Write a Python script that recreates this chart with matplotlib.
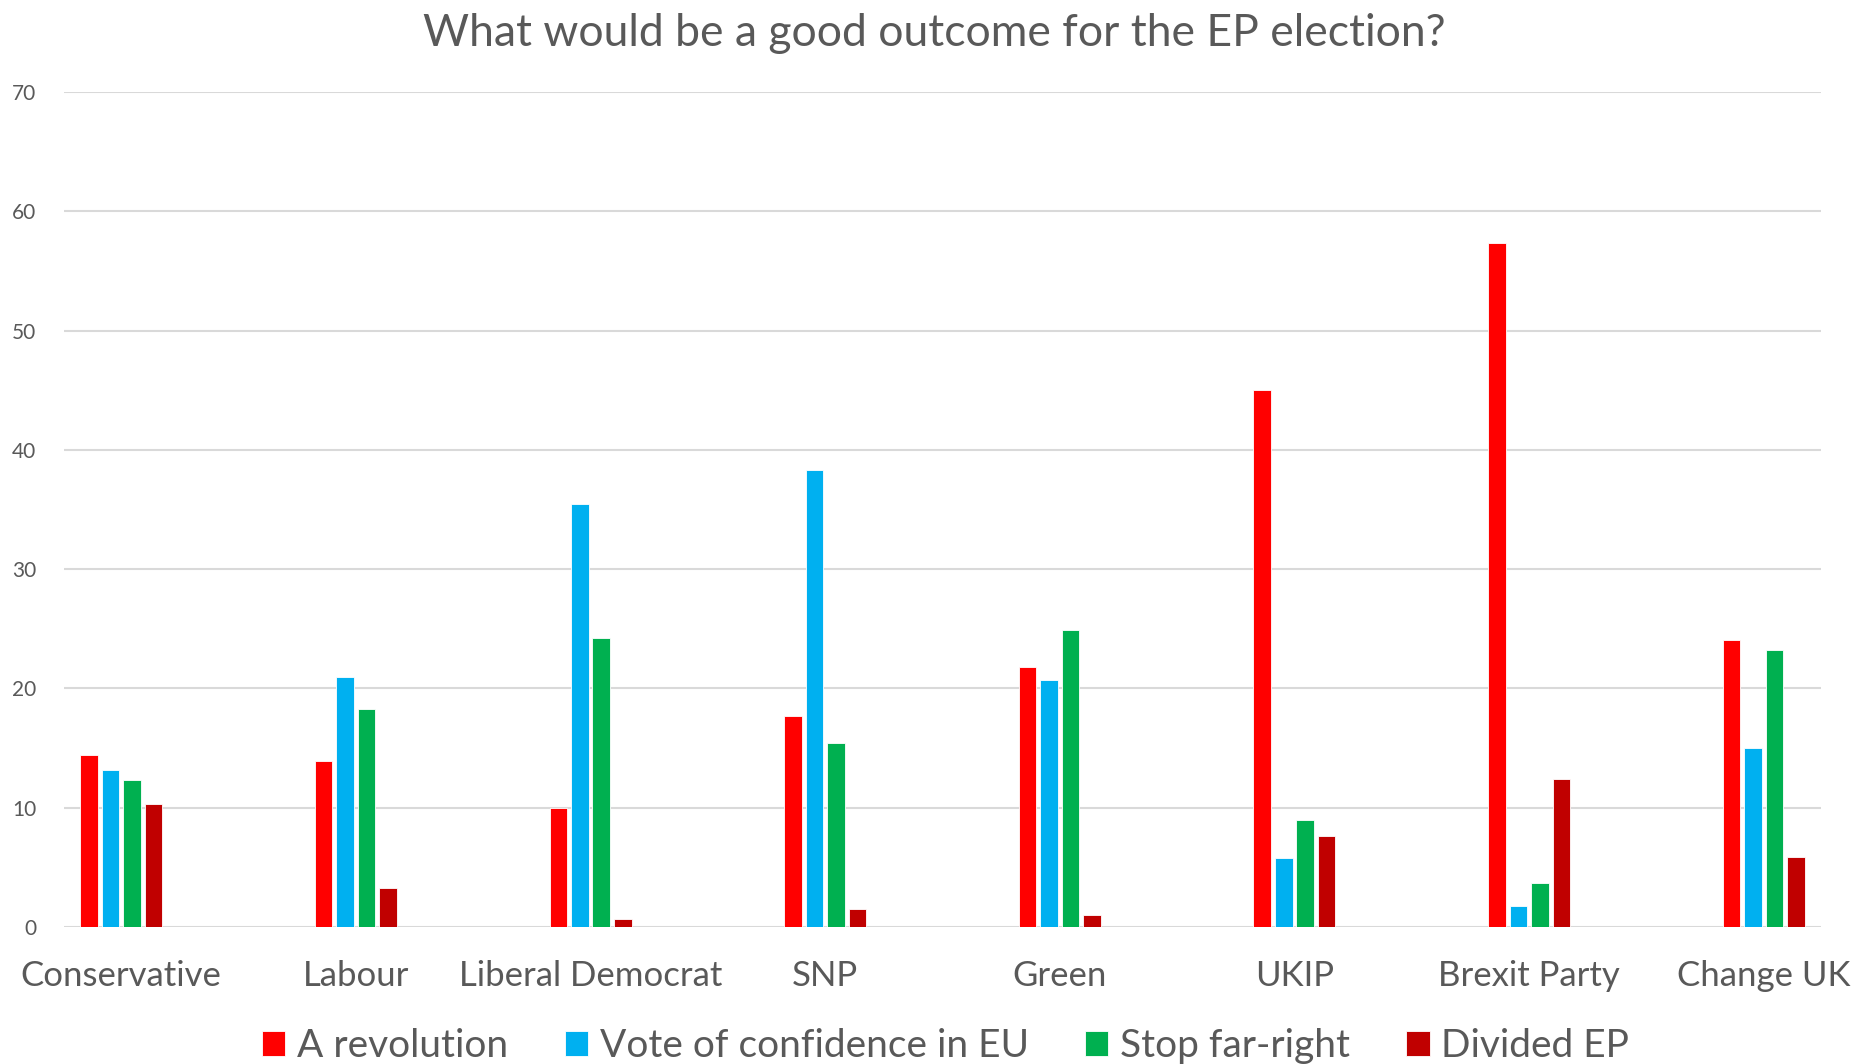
import matplotlib.pyplot as plt
import numpy as np

plt.rcParams['font.family'] = ['Lato', 'DejaVu Sans']

parties = ["Conservative", "Labour", "Liberal Democrat", "SNP", "Green",
           "UKIP", "Brexit Party", "Change UK"]
revolution = [14.4, 13.9, 10.0, 17.7, 21.8, 45.0, 57.3, 24.1]
confidence = [13.2, 21.0, 35.5, 38.3, 20.7, 5.8, 1.8, 15.0]
stop_far_right = [12.3, 18.3, 24.2, 15.4, 24.9, 9.0, 3.7, 23.2]
divided = [10.3, 3.3, 0.7, 1.5, 1.0, 7.6, 12.4, 5.9]

series = [("A revolution", revolution, "#ff0000"),
          ("Vote of confidence in EU", confidence, "#00b0f0"),
          ("Stop far-right", stop_far_right, "#00b050"),
          ("Divided EP", divided, "#c00000")]

grey = "#595959"

fig = plt.figure(figsize=(18.69, 10.64), dpi=100)
ax = fig.add_axes([64/1869, 1-927/1064, (1821-64)/1869, (927-92)/1064])

x = np.arange(len(parties))
w = 0.075
step = 0.0915
for i, (name, vals, col) in enumerate(series):
    ax.bar(x + (i - 1.5)*step, vals, w, color=col, label=name,
           edgecolor="white", linewidth=0.6, zorder=3)

ax.set_xlim(-0.244, 7.244)
ax.set_ylim(0, 70)
ax.set_yticks(range(0, 71, 10))
ax.yaxis.grid(True, color="#d9d9d9", linewidth=1.5, zorder=0)
ax.set_xticks(x)
ax.set_xticklabels(parties, fontsize=25, color=grey)
ax.tick_params(axis="x", length=0, pad=24)
ax.tick_params(axis="y", length=0, labelsize=15, labelcolor=grey, pad=20)
for s in ax.spines.values():
    s.set_visible(False)

fig.text(0.5, 1-33/1064, "What would be a good outcome for the EP election?",
         ha="center", va="center", fontsize=32, color=grey)

fig.legend(loc="center", bbox_to_anchor=(0.506, 1-1046/1064), ncol=4,
           frameon=False, fontsize=28, labelcolor=grey, handlelength=0.6,
           handleheight=0.6, handletextpad=0.3, columnspacing=1.45)

fig.savefig("out.png", dpi=100)
